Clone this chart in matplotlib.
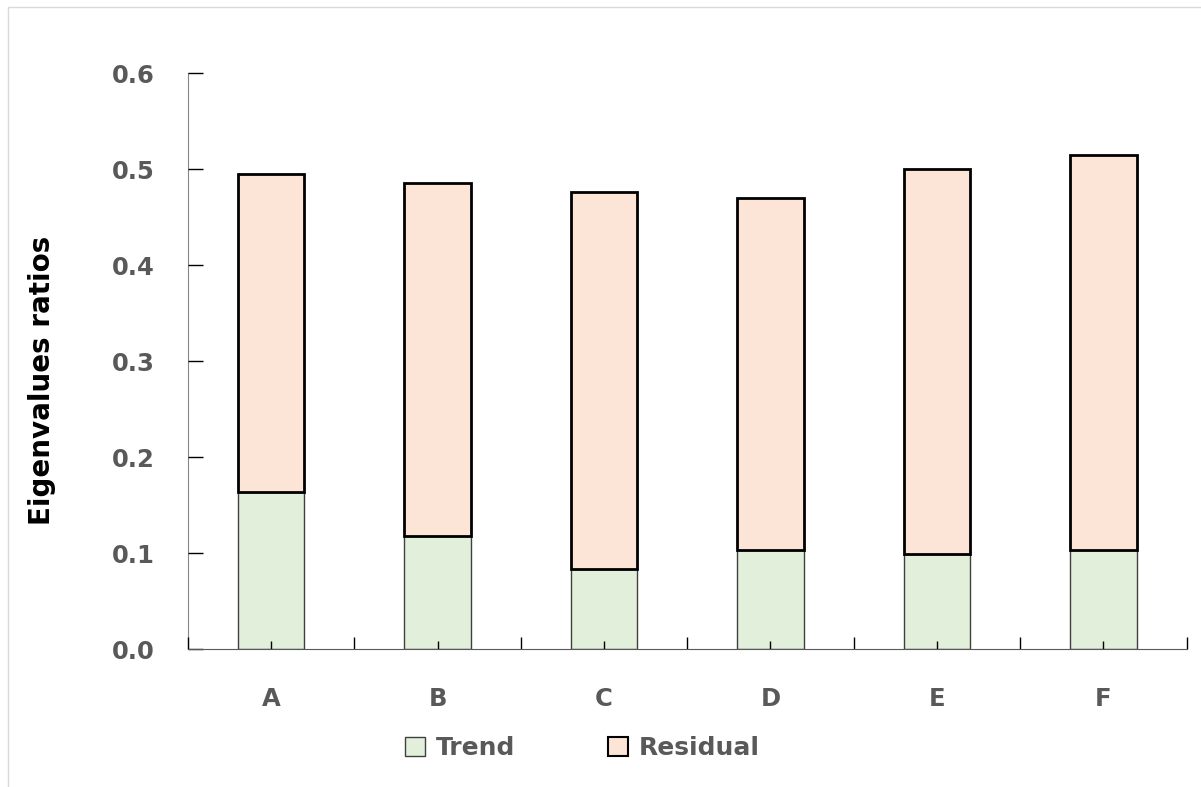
import numpy as np
import matplotlib.pyplot as plt
from matplotlib.patches import Patch, Rectangle

# values
categories = ['A', 'B', 'C', 'D', 'E', 'F']
trend = [0.164, 0.118, 0.083, 0.103, 0.099, 0.103]
total = [0.495, 0.485, 0.476, 0.470, 0.500, 0.515]
residual = [t - s for t, s in zip(total, trend)]
y_ticks = [0.0, 0.1, 0.2, 0.3, 0.4, 0.5, 0.6]

plt.rcParams['font.family'] = ['DejaVu Sans']
text_gray = '#595959'

fig = plt.figure(figsize=(12.01, 7.87), dpi=100)
ax = fig.add_axes([0.1565, 0.1753, 0.8315, 0.7319])

# light frame around the chart area
fig.patches.append(Rectangle((8 / 1201, -0.1), 1.2, 1.1 - 7 / 787,
                             transform=fig.transFigure, fill=False,
                             edgecolor='#d9d9d9', linewidth=1))

x = np.arange(len(categories))
w = 0.40
ax.bar(x, trend, w, color='#e2efda', edgecolor='#404040', linewidth=1, label='Trend')
ax.bar(x, residual, w, bottom=trend, color='#fce4d6', edgecolor='black',
       linewidth=2, label='Residual')

ax.set_xlim(-0.5, len(categories) - 0.5)
ax.set_ylim(0, 0.6)
ax.set_yticks(y_ticks)
ax.set_yticklabels([f'{v:.1f}' for v in y_ticks])

ax.set_xticks(x)
ax.set_xticklabels(categories)
ax.set_xticks(np.arange(len(categories) + 1) - 0.5, minor=True)

for s in ['top', 'right']:
    ax.spines[s].set_visible(False)
ax.spines['left'].set_color('#868686')
ax.spines['bottom'].set_color('#595959')
ax.spines['left'].set_zorder(0)

ax.tick_params(axis='y', direction='in', length=11, width=1, colors='black',
               labelcolor=text_gray, labelsize=17.5, pad=24)
ax.tick_params(axis='x', which='major', direction='in', length=6, width=1,
               colors='black', labelcolor=text_gray, labelsize=17.5, pad=27)
ax.tick_params(axis='x', which='minor', direction='in', length=9, width=1, colors='black')
for lab in ax.get_xticklabels() + ax.get_yticklabels():
    lab.set_fontweight('bold')

ax.set_ylabel('Eigenvalues ratios', fontsize=20, fontweight='bold')
ax.yaxis.set_label_coords(-0.132, 0.467)

handles = [Patch(facecolor='#e2efda', edgecolor='#404040', linewidth=1),
           Patch(facecolor='#fce4d6', edgecolor='black', linewidth=1.5)]
leg = fig.legend(handles, ['Trend', 'Residual'], loc='center', ncol=2,
                 bbox_to_anchor=(0.485, 0.0496), frameon=False,
                 prop={'size': 18, 'weight': 'bold'}, handlelength=0.8,
                 handleheight=0.8, handletextpad=0.44, columnspacing=3.7)
for t in leg.get_texts():
    t.set_color(text_gray)

fig.savefig('out.png', dpi=100)
